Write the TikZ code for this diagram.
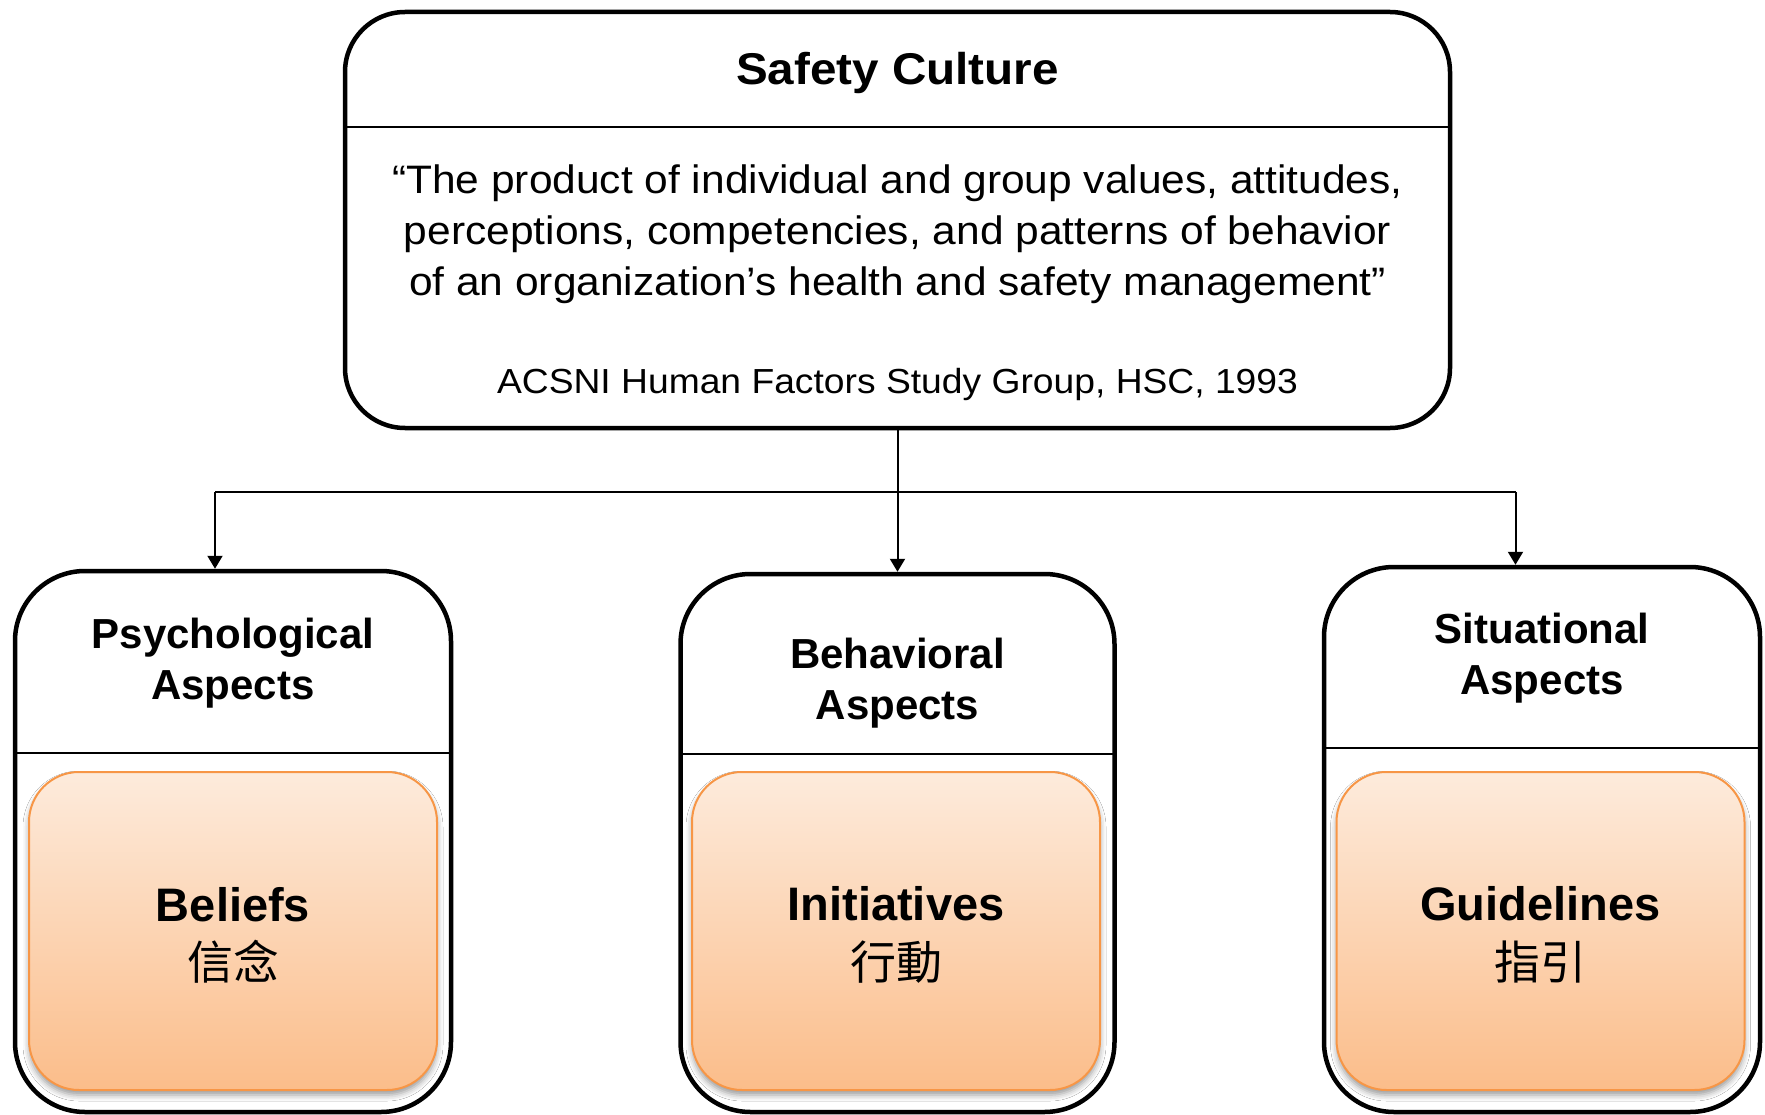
\documentclass[tikz,border=0pt]{standalone}
\usepackage{fontspec}
\setmainfont{Liberation Sans}
\newfontfamily\topfont[FakeStretch=1.07]{Liberation Sans}
\newfontfamily\cjk{Noto Sans CJK TC}
\usetikzlibrary{arrows.meta,shadows.blur}
\definecolor{otop}{RGB}{253,235,220}
\definecolor{obot}{RGB}{251,189,138}
\definecolor{oline}{RGB}{247,150,70}
\begin{document}
\begin{tikzpicture}[x=1pt,y=-1pt,
  outerbox/.style={draw=black, line width=4.5pt, rounded corners=70pt, inner sep=0pt, fill=white},
  divider/.style={line width=2.5pt},
  orangebox/.style={draw=oline, line width=2pt, rounded corners=50pt, inner sep=0pt,
    top color=otop, bottom color=obot, minimum width=408pt, minimum height=318pt,
    blur shadow={shadow xshift=0pt, shadow yshift=-5pt, shadow blur radius=6pt, shadow opacity=40}},
  conn/.style={line width=2pt},
  arr/.style={conn, -{Triangle[width=15pt,length=13pt]}},
  titletext/.style={font=\topfont\bfseries\fontsize{44.5}{53}\selectfont, inner sep=0pt, anchor=base},
  quotetext/.style={font=\topfont\fontsize{39.7}{51}\selectfont, inner sep=0pt, align=center},
  srctext/.style={font=\topfont\fontsize{34.8}{42}\selectfont, inner sep=0pt, anchor=base},
  headtext/.style={font=\bfseries\fontsize{42}{51.5}\selectfont, inner sep=0pt, align=center},
  bigtext/.style={font=\bfseries\fontsize{47}{56}\selectfont, inner sep=0pt, anchor=base},
  cjktext/.style={font=\cjk\fontsize{46}{56}\selectfont, inner sep=0pt}
]
\useasboundingbox (0,0) rectangle (1765,1115);

% top box
\node[outerbox, rounded corners=60pt, minimum width=1105pt, minimum height=416pt] (top) at (897.5,220) {};
\draw[divider] (345,127) -- (1450,127);
\node[titletext] (title) at (897.5,85) {Safety Culture};
\node[quotetext] (quote) at (897.5,234) {“The product of individual and group values, attitudes,\\perceptions, competencies, and patterns of behavior\\of an organization’s health and safety management”};
\node[srctext] (src) at (897.5,393) {ACSNI Human Factors Study Group, HSC, 1993};

% bottom boxes
\node[outerbox, minimum width=436pt, minimum height=541pt] (L) at (233,841.5) {};
\node[outerbox, minimum width=434pt, minimum height=538pt] (M) at (897.5,843) {};
\node[outerbox, minimum width=436pt, minimum height=545pt] (R) at (1542,839.5) {};
\draw[divider] (15,753) -- (451,753);
\draw[divider] (680.5,754) -- (1114.5,754);
\draw[divider] (1324,748) -- (1760,748);

\node[headtext] (Lh) at (233,663) {Psychological\\Aspects};
\node[headtext] (Mh) at (897.5,683) {Behavioral\\Aspects};
\node[headtext] (Rh) at (1542,658) {Situational\\Aspects};

\node[orangebox] (Lo) at (233,931) {};
\node[orangebox] (Mo) at (896,931) {};
\node[orangebox] (Ro) at (1540.5,931) {};

\node[bigtext] (Lt) at (233,921) {Beliefs};
\node[cjktext] (Lc) at (233,962) {信念};
\node[bigtext] (Mt) at (896,920) {Initiatives};
\node[cjktext] (Mc) at (896,962) {行動};
\node[bigtext] (Rt) at (1540.5,920) {Guidelines};
\node[cjktext] (Rc) at (1540.5,962) {指引};

% connectors
\coordinate (hubL) at (215,492);
\coordinate (hubR) at (1515.5,492);
\draw[arr] (top.south) -- (M.north);
\draw[conn] (hubL) -- (hubR);
\draw[arr] (hubL) -- (hubL |- L.north);
\draw[arr] (hubR) -- (hubR |- R.north);
\end{tikzpicture}
\end{document}
